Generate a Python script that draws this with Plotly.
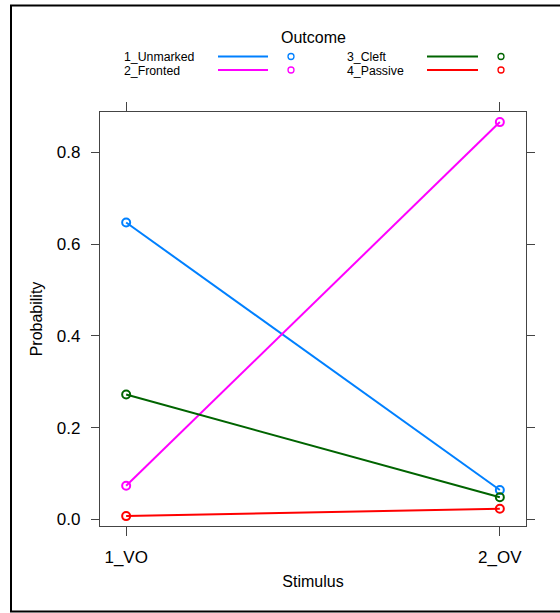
import plotly.graph_objects as go

stimulus_labels = ["1_VO", "2_OV"]
stimulus_pos = [1, 2]
outcomes = ["1_Unmarked", "2_Fronted", "3_Cleft", "4_Passive"]
prob_unmarked = [0.647, 0.064]
prob_fronted = [0.073, 0.866]
prob_cleft = [0.272, 0.048]
prob_passive = [0.007, 0.023]
colors = ["#0080ff", "#ff00ff", "#006400", "#ff0000"]
y_ticks = [0.0, 0.2, 0.4, 0.6, 0.8]

series = [prob_unmarked, prob_fronted, prob_cleft, prob_passive]

W, H = 560, 613
L, R, T, B = 100, 526, 112, 526


def px(x):
    return (x - L) / (R - L)


def py(y):
    return (B - y) / (B - T)


fig = go.Figure()
for name, vals, col in zip(outcomes, series, colors):
    fig.add_trace(go.Scatter(
        x=stimulus_pos, y=vals, mode="lines+markers", name=name,
        line=dict(color=col, width=2),
        marker=dict(symbol="circle-open", size=8, color=col, line=dict(width=2, color=col)),
        showlegend=False, cliponaxis=False,
    ))

font = "Liberation Sans, Arial, sans-serif"
axis_col = "#444444"

shapes = []
annotations = []

# outer frame (left, top, bottom)
shapes.append(dict(type="line", xref="paper", yref="paper", x0=px(11), x1=px(11), y0=py(5), y1=py(611.5),
                   line=dict(color="black", width=2)))
shapes.append(dict(type="line", xref="paper", yref="paper", x0=px(10), x1=px(565), y0=py(5.5), y1=py(5.5),
                   line=dict(color="black", width=2)))
shapes.append(dict(type="line", xref="paper", yref="paper", x0=px(10), x1=px(565), y0=py(611.5), y1=py(611.5),
                   line=dict(color="black", width=2)))

# legend
annotations.append(dict(text="Outcome", xref="paper", yref="paper", x=px(313), y=py(37.5),
                        xanchor="center", yanchor="middle", showarrow=False,
                        font=dict(size=16, color="black", family=font)))
text_x = [122, 122, 345, 345]
line_x = [(218, 268), (218, 268), (427, 478), (427, 478)]
circ_x = [291, 291, 501, 501]
row_y = [57.0, 70.5, 57.0, 70.5]
for i, name in enumerate(outcomes):
    annotations.append(dict(text=name, xref="paper", yref="paper", x=px(text_x[i]), y=py(row_y[i]),
                            xanchor="left", yanchor="middle", showarrow=False,
                            font=dict(size=12.3, color="black", family=font)))
    shapes.append(dict(type="line", xref="paper", yref="paper",
                       x0=px(line_x[i][0]), x1=px(line_x[i][1]), y0=py(row_y[i] - 0.5), y1=py(row_y[i] - 0.5),
                       line=dict(color=colors[i], width=2)))
    shapes.append(dict(type="circle", xref="paper", yref="paper", xsizemode="pixel", ysizemode="pixel",
                       xanchor=px(circ_x[i]), yanchor=py(row_y[i] - 0.5),
                       x0=-3, x1=3, y0=-3, y1=3,
                       line=dict(color=colors[i], width=1.3)))

fig.update_layout(
    width=W, height=H,
    margin=dict(l=L, r=W - R, t=T, b=H - B, pad=0),
    paper_bgcolor="white", plot_bgcolor="white",
    font=dict(family=font, color="black", size=17),
    shapes=shapes, annotations=annotations,
    showlegend=False,
    xaxis=dict(
        range=[0.93, 2.07], tickvals=stimulus_pos, ticktext=stimulus_labels,
        showgrid=False, zeroline=False, showline=True, linecolor=axis_col, linewidth=1.3,
        mirror="ticks", ticks="outside", ticklen=9, tickwidth=1.3, tickcolor=axis_col,
        tickfont=dict(size=17), ticklabelstandoff=6,
        title=dict(text="Stimulus", font=dict(size=16), standoff=10),
    ),
    yaxis=dict(
        range=[-0.0146, 0.888], tickvals=y_ticks, tickformat=".1f",
        showgrid=False, zeroline=False, showline=True, linecolor=axis_col, linewidth=1.3,
        mirror="ticks", ticks="outside", ticklen=8, tickwidth=1.3, tickcolor=axis_col,
        tickfont=dict(size=17), ticklabelstandoff=7,
        title=dict(text="Probability", font=dict(size=16), standoff=10),
    ),
)

fig.write_html("out.html")
